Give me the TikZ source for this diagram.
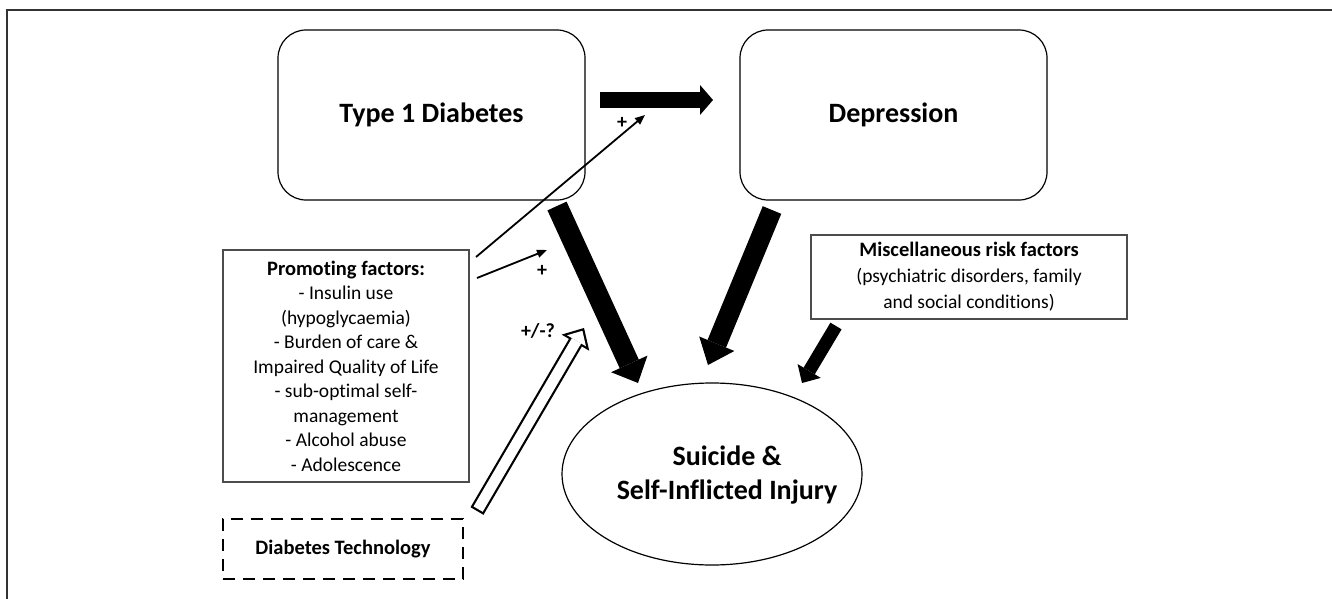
\documentclass[tikz,border=0pt]{standalone}
\usepackage{fontspec}
\setmainfont{Carlito}[Ligatures=NoCommon]
\usetikzlibrary{arrows.meta,shapes.geometric,calc}

\begin{document}
\begin{tikzpicture}[x=1pt, y=-1pt, line join=miter,
	big/.style={font=\fontsize{28}{34}\selectfont\bfseries, align=center},
	txt/.style={font=\fontsize{19.5}{24.5}\selectfont, align=center},
	roundbox/.style={draw, line width=1.2pt, rounded corners=28pt, minimum width=307pt, minimum height=170pt, big},
	factorbox/.style={draw=black!70, line width=1.4pt, txt},
	techbox/.style={draw, line width=2.5pt, dash pattern=on 12pt off 8pt, font=\fontsize{20.5}{24}\selectfont\bfseries},
	sign/.style={font=\fontsize{20}{20}\selectfont\bfseries, inner sep=0pt}]
	\useasboundingbox (0,0) rectangle (1332,599);
	\draw[line width=1.5pt, black!80] (1332,10) -- (7,10) -- (7,599);
	% boxes
	\node[roundbox] (t1d) at (431.5,115) {Type 1 Diabetes};
	\node[roundbox] (dep) at (893.5,115) {Depression};
	\node[draw, ellipse, line width=1.2pt, minimum width=300pt, minimum height=182pt, inner sep=0pt] (ssi) at (712,474) {};
	\node[big] (ssitext) at (727,475) {Suicide \&\\Self-Inflicted Injury};
	\node[factorbox, minimum width=246pt, minimum height=232pt] (prom) at (346,366)
	{{\fontsize{20.5}{24.5}\selectfont\bfseries Promoting factors:}\\- Insulin use\\(hypoglycaemia)\\- Burden of care \&\\Impaired Quality of Life\\- sub-optimal self-\\management\\- Alcohol abuse\\- Adolescence};
	\node[factorbox, font=\fontsize{19.5}{26}\selectfont, minimum width=316pt, minimum height=84pt] (misc) at (969,277)
	{{\fontsize{20.5}{26}\selectfont\bfseries Miscellaneous risk factors}\\(psychiatric disorders, family\\and social conditions)};
	\node[techbox, minimum width=240pt, minimum height=60pt] (tech) at (343,549) {Diabetes Technology};
	% arrow ends
	\path
	(600,100) coordinate (h1) (713,100) coordinate (h2)
	(557,206) coordinate (a1) (638,383) coordinate (a2)
	(772,210) coordinate (b1) (708,365) coordinate (b2)
	(836,326) coordinate (c1) (802,383) coordinate (c2)
	(477,511) coordinate (d1) (584,328) coordinate (d2)
	(476,257) coordinate (e1) (645,115) coordinate (e2)
	(477,278) coordinate (f1) (547,250) coordinate (f2)
	;
	\foreach \s/\e/\w/\hw/\hl in {h1/h2/16/30/13, a1/a2/21/40/21, b1/b2/20/38/23, c1/c2/13/27/14}
	\draw[line width=\w pt, -{Triangle[width=\hw pt, length=\hl pt, line width=0pt]}] (\s) -- (\e);
	% hollow arrow
	\draw[line width=15pt, -{Triangle[width=32pt, length=17pt, line width=0pt]}] (d1) -- (d2);
	\draw[white, line width=10.6pt, -{Triangle[width=21.8pt, length=11.6pt, line width=0pt]}] ($(d1)!2.2pt!(d2)$) -- ($(d2)!3.2pt!(d1)$);
	% thin arrows
	\foreach \s/\e in {e1/e2, f1/f2}
	\draw[line width=1.8pt, -{Triangle[length=10pt, width=8pt]}] (\s) -- (\e);
	\node[sign] (p1) at (622,123) {+};
	\node[sign] (p2) at (542,271) {+};
	\node[sign] (pm) at (538,331) {+/-?};
\end{tikzpicture}
\end{document}
